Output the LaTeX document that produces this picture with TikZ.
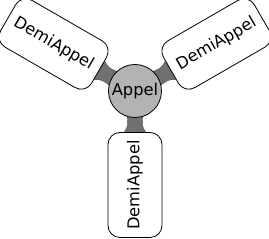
\documentclass[tikz,border=0pt]{standalone}
\usepackage{fontspec}
\setmainfont{DejaVu Sans}
\usetikzlibrary{calc,backgrounds}
\definecolor{appelgris}{HTML}{B3B3B3}
\definecolor{liengris}{HTML}{707070}
\tikzset{
  appel/.style={circle,draw,line width=0.6pt,fill=appelgris,minimum size=39.75pt,inner sep=0pt,
    font=\fontsize{12.2}{14}\selectfont},
  demi/.style={rectangle,draw,line width=0.6pt,fill=white,rounded corners=9pt,minimum width=78.75pt,
    minimum height=40.5pt,inner sep=0pt,font=\fontsize{12.2}{14}\selectfont},
  lien/.style={fill=liengris,draw=black!70,line width=0.3pt,
    to path={($(\tikztostart.center)!16.5pt!(\tikztotarget.center)!7pt!90:(\tikztotarget.center)$)
      .. controls ($(\tikztostart.center)!22.5pt!(\tikztotarget.center)!4.5pt!90:(\tikztotarget.center)$)
      and ($(\tikztostart.center)!27pt!(\tikztotarget.center)!4.5pt!90:(\tikztotarget.center)$)
      .. ($(\tikztostart.center)!33pt!(\tikztotarget.center)!9.75pt!90:(\tikztotarget.center)$)
      -- ($(\tikztostart.center)!33pt!(\tikztotarget.center)!9.75pt!-90:(\tikztotarget.center)$)
      .. controls ($(\tikztostart.center)!27pt!(\tikztotarget.center)!4.5pt!-90:(\tikztotarget.center)$)
      and ($(\tikztostart.center)!22.5pt!(\tikztotarget.center)!4.5pt!-90:(\tikztotarget.center)$)
      .. ($(\tikztostart.center)!16.5pt!(\tikztotarget.center)!7pt!-90:(\tikztotarget.center)$)
      -- cycle}}
}
\begin{document}
\begin{tikzpicture}[x=0.75pt,y=0.75pt]
    \useasboundingbox (0,0) rectangle (269,239);
    \node[appel] (appel) at (135,148) {Appel};% centre
    \node[demi,rotate=-30] (gauche) at ($(appel)+(150:94)$) {DemiAppel};% en haut a gauche
    \node[demi,rotate=30] (droite) at ($(appel)+(30:94)$) {DemiAppel};% en haut a droite
    \node[demi,rotate=90] (bas) at ($(appel)+(270:94)$) {DemiAppel};% en bas
    % liens
    \begin{scope}[on background layer]
        \path[lien] (appel) to (gauche);
        \path[lien] (appel) to (droite);
        \path[lien] (appel) to (bas);
    \end{scope}
\end{tikzpicture}
\end{document}
